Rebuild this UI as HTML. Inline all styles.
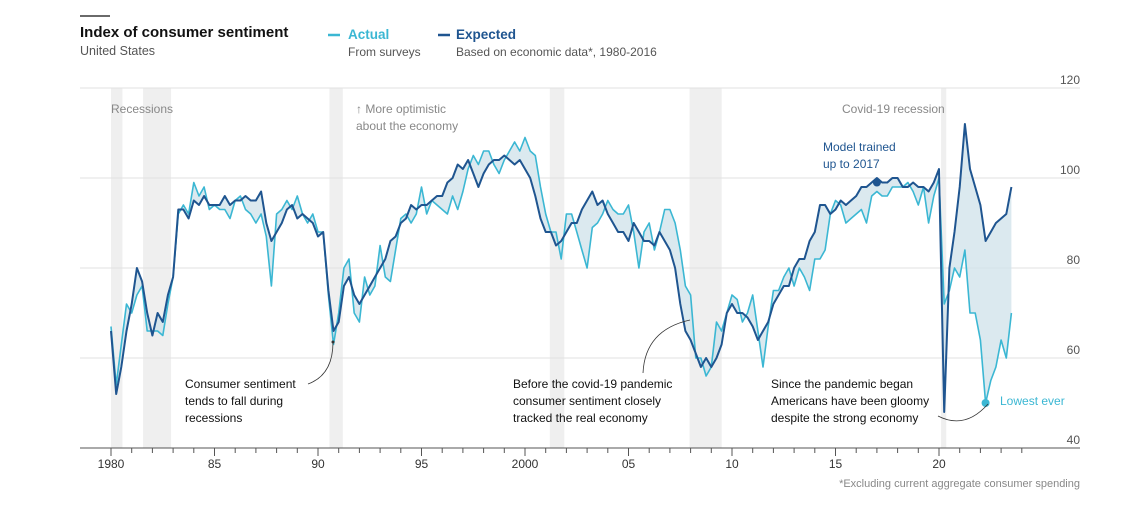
<!DOCTYPE html>
<html><head><meta charset="utf-8"><style>
body{margin:0;background:#fff;font-family:"Liberation Sans",sans-serif;}
svg text{font-family:"Liberation Sans",sans-serif;}
</style></head><body>
<svg width="1137" height="507" viewBox="0 0 1137 507" id="chart">
<line x1="80" y1="16" x2="110" y2="16" stroke="#111" stroke-width="1.2"/>
<text x="80" y="37" font-size="15" font-weight="bold" fill="#111">Index of consumer sentiment</text>
<text x="80" y="55" font-size="12.5" fill="#555">United States</text>
<g>
<line x1="328" y1="35" x2="340" y2="35" stroke="#3bb7d3" stroke-width="2.5"/>
<text x="348" y="39" font-size="13.5" font-weight="bold" fill="#3bb7d3">Actual</text>
<text x="348" y="56" font-size="12" fill="#555">From surveys</text>
</g>
<g>
<line x1="438" y1="35" x2="450" y2="35" stroke="#1f5590" stroke-width="2.5"/>
<text x="456" y="39" font-size="13.5" font-weight="bold" fill="#1f5590">Expected</text>
<text x="456" y="56" font-size="12" fill="#555">Based on economic data*, 1980-2016</text>
</g>
<g id="rec"></g>
<g id="grid"></g>
<g id="plot"></g>
<g id="xaxis"></g>
<text x="111" y="113" font-size="12" fill="#888">Recessions</text>
<text x="356" y="113" font-size="12" fill="#888">↑ More optimistic</text>
<text x="356" y="130" font-size="12" fill="#888">about the economy</text>
<text x="842" y="113" font-size="12" fill="#888">Covid-19 recession</text>
<text x="823" y="151" font-size="12" fill="#1f5590">Model trained</text>
<text x="823" y="168" font-size="12" fill="#1f5590">up to 2017</text>
<g font-size="12" fill="#111">
<text x="185" y="388">Consumer sentiment</text><text x="185" y="405">tends to fall during</text><text x="185" y="422">recessions</text>
<path d="M308,384 Q333,375 333,342" fill="none" stroke="#333" stroke-width="0.8"/>
<circle cx="333" cy="342" r="1.5" fill="#333"/>
</g>
<g font-size="12" fill="#111">
<text x="513" y="388">Before the covid-19 pandemic</text><text x="513" y="405">consumer sentiment closely</text><text x="513" y="422">tracked the real economy</text>
<path d="M643,373 Q645,330 690,320" fill="none" stroke="#333" stroke-width="0.8"/>
</g>
<g font-size="12" fill="#111">
<text x="771" y="388">Since the pandemic began</text><text x="771" y="405">Americans have been gloomy</text><text x="771" y="422">despite the strong economy</text>
<path d="M938,416 Q965,430 988,404" fill="none" stroke="#333" stroke-width="0.8"/>
</g>
<text x="1000" y="405" font-size="12" fill="#3bb7d3">Lowest ever</text>
<text x="1080" y="487" font-size="11" fill="#888" text-anchor="end">*Excluding current aggregate consumer spending</text>
</svg>
<script>
const startYear = 1980;
const actual = [67,54,63,72, 70,74,76,66, 66,66,65,72, 78,92,94,92, 99,96,98,93, 94,93,93,91, 95,96,93,92, 90,92,87,76, 92,93,95,93, 96,92,90,92, 88,88,74,63, 70,80,82,70, 68,78,74,76, 85,78,77,84, 91,92,90,92, 98,92,95,94, 93,92,96,93, 97,102,105,103, 106,106,103,101, 104,106,108,106, 109,106,105,98, 92,88,88,82, 92,92,88,84, 80,89,90,92, 95,93,92,92, 94,88,80,88, 90,84,88,93, 93,90,84,76, 74,60,60,56, 58,68,66,70, 74,73,68,70, 74,66,58,67, 75,75,78,80, 76,80,78,75, 82,82,84,92, 95,94,90,91, 92,93,90,96, 97,96,96,98, 98,98,99,97, 94,98,90,96, 100,72,75,80, 78,84,70,70, 64,50,55,58, 64,60,70];
const expected = [66,52,58,66, 72,80,77,70, 65,70,68,74, 78,93,93,91, 95,94,96,94, 94,94,96,94, 95,95,96,95, 95,97,90,86, 88,90,93,94, 91,92,91,90, 87,88,75,66, 68,76,78,74, 72,74,76,78, 80,82,86,87, 90,91,94,93, 94,94,95,96, 96,99,100,103, 102,104,101,98, 101,103,104,104, 105,104,103,104, 102,100,96,91, 88,88,85,86, 88,90,90,93, 95,97,94,95, 92,90,88,88, 86,90,88,86, 86,85,88,86, 84,80,72,66, 64,61,58,60, 58,60,63,70, 72,70,70,69, 67,64,66,68, 72,74,76,76, 80,82,82,86, 88,94,94,92, 93,95,94,95, 96,98,98,99, 100,99,99,100, 100,98,98,99, 98,98,97,99, 102,48,80,88, 98,112,102,98, 94,86,88,90, 91,92,98];
const recessions = [[1980.0,1980.55],[1981.55,1982.9],[1990.55,1991.2],[2001.2,2001.9],[2007.95,2009.5],[2020.1,2020.35]];
const yTicks = [40,60,80,100,120];
const xLabels = ["1980","85","90","95","2000","05","10","15","20"];
const modelYear = 2017.0, modelVal = 99;
const NS="http://www.w3.org/2000/svg";
const X = y => 111 + (y-1980)*20.7;
const Y = v => 448 - (v-40)*4.5;
const t = i => startYear + i/4;
function mk(tag, attrs, parent){const e=document.createElementNS(NS,tag);for(const k in attrs)e.setAttribute(k,attrs[k]);parent.appendChild(e);return e;}
const rec=document.getElementById('rec'), grid=document.getElementById('grid'), plot=document.getElementById('plot'), xa=document.getElementById('xaxis');
recessions.forEach(r=>{const e=mk('rect',{x:X(r[0]),y:88,width:X(r[1])-X(r[0]),height:360,fill:'#efefef'},rec);

});
yTicks.forEach(v=>{if(v>40){const l=mk('line',{x1:80,x2:1080,y1:Y(v),y2:Y(v),stroke:'#e2e2e2','stroke-width':1},grid);

}
const tx=mk('text',{x:1080,y:Y(v)-4,'font-size':12,fill:'#555','text-anchor':'end'},grid);tx.textContent=v;

});
// fill between
let d='';actual.forEach((v,i)=>{d+=(i?'L':'M')+X(t(i)).toFixed(1)+','+Y(v).toFixed(1);});
for(let i=expected.length-1;i>=0;i--)d+='L'+X(t(i)).toFixed(1)+','+Y(expected[i]).toFixed(1);
const f=mk('path',{d:d+'Z',fill:'#cfe1ea','fill-opacity':0.75,stroke:'none'},plot);


function line(arr,col,w,name){const p=mk('path',{d:arr.map((v,i)=>(i?'L':'M')+X(t(i)).toFixed(1)+','+Y(v).toFixed(1)).join(''),fill:'none',stroke:col,'stroke-width':w,'stroke-linejoin':'round'},plot);

}
line(actual,'#3bb7d3',1.6,'actual-line');
line(expected,'#1f5590',2,'expected-line');
const md=mk('circle',{cx:X(modelYear),cy:Y(modelVal),r:4,fill:'#1f5590'},plot);


let mi=0;actual.forEach((v,i)=>{if(v<actual[mi])mi=i;});
const lo=mk('circle',{cx:X(t(mi)),cy:Y(actual[mi]),r:4,fill:'#3bb7d3'},plot);


const ax=mk('line',{x1:80,x2:1080,y1:448,y2:448,stroke:'#555','stroke-width':1},xa);


for(let yr=1980;yr<=2024;yr++){const m=(yr%5===0);const tk=mk('line',{x1:X(yr),x2:X(yr),y1:448,y2:m?456:453,stroke:'#555','stroke-width':1},xa);

}
xLabels.forEach((s,i)=>{const tx=mk('text',{x:X(1980+5*i),y:468,'font-size':12,fill:'#333','text-anchor':'middle'},xa);tx.textContent=s;

});
</script>
</body></html>
